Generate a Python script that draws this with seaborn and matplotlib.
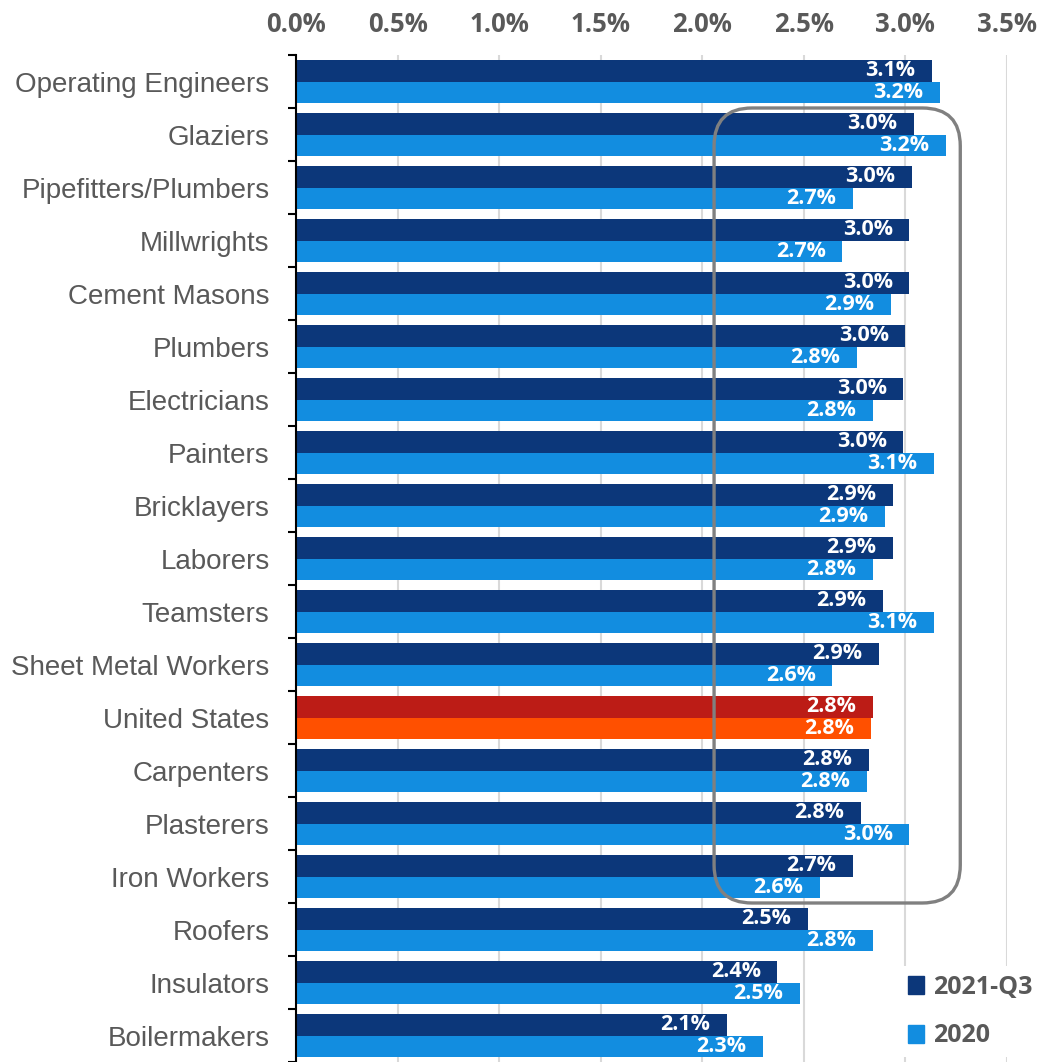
import matplotlib
matplotlib.use('Agg')
import matplotlib.pyplot as plt
import seaborn as sns
import pandas as pd
import numpy as np
from matplotlib.patches import FancyBboxPatch, Patch
from matplotlib.transforms import IdentityTransform

# rates by trade
trades = ['Operating Engineers', 'Glaziers', 'Pipefitters/Plumbers', 'Millwrights',
          'Cement Masons', 'Plumbers', 'Electricians', 'Painters', 'Bricklayers',
          'Laborers', 'Teamsters', 'Sheet Metal Workers', 'United States',
          'Carpenters', 'Plasterers', 'Iron Workers', 'Roofers', 'Insulators',
          'Boilermakers']
q3_2021 = [3.13, 3.04, 3.03, 3.02, 3.02, 3.00, 2.99, 2.99, 2.94, 2.94,
           2.89, 2.87, 2.84, 2.82, 2.78, 2.74, 2.52, 2.37, 2.12]
y2020 = [3.17, 3.20, 2.74, 2.69, 2.93, 2.76, 2.84, 3.14, 2.90, 2.84,
         3.14, 2.64, 2.83, 2.81, 3.02, 2.58, 2.84, 2.48, 2.30]
periods = ['2021-Q3', '2020']
x_ticks = [0.0, 0.5, 1.0, 1.5, 2.0, 2.5, 3.0, 3.5]

navy = '#0C377A'
light = '#128DE0'
us_dark = '#BC1C16'
us_light = '#FF5000'
grey_text = '#595959'

n = len(trades)
df = pd.DataFrame({
    'trade': trades * 2,
    'rate': q3_2021 + y2020,
    'period': [periods[0]] * n + [periods[1]] * n,
})

sns.set_style('white')
plt.rcParams['font.family'] = ['Liberation Sans', 'DejaVu Sans']

fig, ax = plt.subplots(figsize=(10.4, 10.62), dpi=100)
fig.subplots_adjust(left=296 / 1040, right=1007 / 1040, top=1 - 55 / 1062, bottom=0)

sns.barplot(data=df, y='trade', x='rate', hue='period', hue_order=periods,
            order=trades, palette=[navy, light], orient='h', width=0.8,
            saturation=1, legend=False, linewidth=0, ax=ax)

# US row in red/orange
us = trades.index('United States')
ax.containers[0][us].set_facecolor(us_dark)
ax.containers[1][us].set_facecolor(us_light)

# value labels inside the bar ends
for cont, vals in zip(ax.containers, [q3_2021, y2020]):
    texts = ax.bar_label(cont, labels=['{:.1f}%'.format(v) for v in vals],
                         padding=-12, color='white', fontweight='bold',
                         fontsize=15.5, fontfamily='Open Sans')
    for t in texts:
        t.set_ha('right')

ax.set_xlim(0, 3.5)
ax.set_ylim(n - 0.5, -0.5)
ax.set_xlabel('')
ax.set_ylabel('')

# top axis
ax.xaxis.tick_top()
ax.set_xticks(x_ticks)
ax.set_xticklabels(['{:.1f}%'.format(v) for v in x_ticks],
                   fontfamily='Open Sans', fontweight='bold', fontsize=18.5,
                   color=grey_text)
ax.tick_params(axis='x', length=0, pad=12)
ax.set_axisbelow(True)
ax.xaxis.grid(True, color='#d9d9d9', linewidth=1.5)

# y axis: labels centred, ticks between categories
ax.tick_params(axis='y', which='major', length=0, pad=19, labelsize=20,
               labelcolor=grey_text)
ax.set_yticks(np.arange(-0.5, n, 1.0), minor=True)
ax.tick_params(axis='y', which='minor', left=True, length=6, width=1.5,
               color='black', direction='out')

sns.despine(ax=ax, top=True, right=True, bottom=True, left=False)
ax.spines['left'].set_color('black')
ax.spines['left'].set_linewidth(1.5)

# legend bottom right
handles = [Patch(color=navy, label=periods[0]), Patch(color=light, label=periods[1])]
ax.legend(handles=handles, loc='upper left', bbox_to_anchor=(899 / 1040, 1 - 966 / 1062),
          bbox_transform=fig.transFigure, frameon=True, facecolor='white',
          edgecolor='none', framealpha=1, fancybox=False, borderaxespad=0,
          borderpad=0.35, handlelength=0.65, handleheight=0.75, handletextpad=0.35,
          labelspacing=0.95, labelcolor=grey_text,
          prop={'family': 'Open Sans', 'weight': 'bold', 'size': 18})

# rounded highlight box
x0, y0 = ax.transData.transform((2.058, 0.5))
x1, y1 = ax.transData.transform((3.27, 15.5))
box = FancyBboxPatch((x0, y1), x1 - x0, y0 - y1,
                     boxstyle='round,pad=0,rounding_size=38',
                     transform=IdentityTransform(), fill=False,
                     edgecolor='#808080', linewidth=2.4, clip_on=False, zorder=5)
fig.add_artist(box)

fig.savefig('out.png', dpi=100)
